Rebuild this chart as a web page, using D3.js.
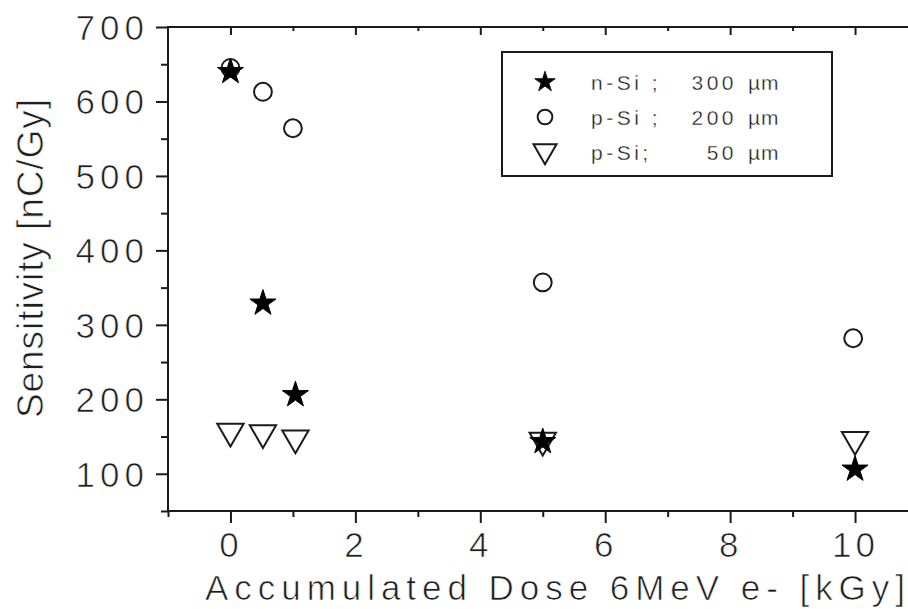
<!DOCTYPE html>
<html><head><meta charset="utf-8">
<script src="https://cdn.jsdelivr.net/npm/d3@7"></script>
<style>
html,body{margin:0;padding:0;background:#fff;}
svg{display:block;}
text{font-family:"Liberation Sans",Arial,sans-serif;fill:#1e1e1e;stroke:#fff;stroke-width:0.7px;}
</style></head>
<body>
<svg id="c" width="908" height="609"></svg>
<script>
// ---- data ----
const nSiX = [0, 0.52, 1.04, 5, 10];
const nSiY = [640, 329, 206, 143, 106];
const pSi200X = [0, 0.52, 1.0, 5, 9.97];
const pSi200Y = [645, 613, 564, 357, 282];
const pSi50X = [0, 0.52, 1.04, 5, 10];
const pSi50Y = [157, 155, 148, 145, 146];
const legendNames = ["n-Si ;", "p-Si ;", "p-Si;"];
const legendThick = ["300", "200", "50"];
const legendUnit = "µm";
const xTicks = [0, 2, 4, 6, 8, 10];
const xMinor = [-1, 1, 3, 5, 7, 9];
const yTicks = [100, 200, 300, 400, 500, 600, 700];
const yMinor = [50, 150, 250, 350, 450, 550, 650];
const xTitle = "Accumulated Dose 6MeV e- [kGy]";
const yTitle = "Sensitivity [nC/Gy]";

// ---- layout ----
const svg = d3.select("#c");
const L = 168, R = 917.5, T = 27, B = 511;
const x = d3.scaleLinear().domain([-1, 11]).range([L, R]);
const y = d3.scaleLinear().domain([50, 700]).range([B, T]);
const ink = "#1a1a1a";

// axes lines
const g = svg.append("g");
g.append("line").attr("x1", L).attr("x2", L).attr("y1", T - 1).attr("y2", B + 1).attr("stroke", ink).attr("stroke-width", 2);
g.append("line").attr("x1", L - 1).attr("x2", 908).attr("y1", B).attr("y2", B).attr("stroke", ink).attr("stroke-width", 2);
g.append("line").attr("x1", L - 1).attr("x2", 908).attr("y1", T).attr("y2", T).attr("stroke", ink).attr("stroke-width", 2);

// bottom axis (outward ticks)
const xAxis = d3.axisBottom(x).tickValues(xTicks).tickSize(12).tickFormat(d3.format("d"));
const gx = svg.append("g").attr("transform", `translate(0,${B})`).call(xAxis);
gx.select(".domain").remove();
gx.selectAll(".tick line").attr("stroke", ink).attr("stroke-width", 2);
gx.selectAll(".tick text").attr("font-size", 35).attr("letter-spacing", 4).attr("dy", null).attr("y", 46)
  .attr("fill", null).attr("font-family", null);
const gxm = svg.append("g").attr("transform", `translate(0,${B})`)
  .call(d3.axisBottom(x).tickValues(xMinor).tickSize(6).tickFormat(""));
gxm.select(".domain").remove();
gxm.selectAll(".tick line").attr("stroke", ink).attr("stroke-width", 2);

// top axis (inward ticks)
const gt = svg.append("g").attr("transform", `translate(0,${T})`)
  .call(d3.axisBottom(x).tickValues(xTicks).tickSize(8).tickFormat(""));
gt.select(".domain").remove();
gt.selectAll(".tick line").attr("stroke", ink).attr("stroke-width", 2);
const gtm = svg.append("g").attr("transform", `translate(0,${T})`)
  .call(d3.axisBottom(x).tickValues(xMinor.filter(d => d > -1)).tickSize(4).tickFormat(""));
gtm.select(".domain").remove();
gtm.selectAll(".tick line").attr("stroke", ink).attr("stroke-width", 2);

// left axis (outward ticks)
const gy = svg.append("g").attr("transform", `translate(${L},0)`)
  .call(d3.axisLeft(y).tickValues(yTicks).tickSize(12).tickFormat(d3.format("d")));
gy.select(".domain").remove();
gy.selectAll(".tick line").attr("stroke", ink).attr("stroke-width", 2);
gy.selectAll(".tick text").attr("font-size", 35).attr("letter-spacing", 5).attr("x", -19).attr("dy", "0.35em")
  .attr("fill", null).attr("font-family", null);
const gym = svg.append("g").attr("transform", `translate(${L},0)`)
  .call(d3.axisLeft(y).tickValues(yMinor).tickSize(7).tickFormat(""));
gym.select(".domain").remove();
gym.selectAll(".tick line").attr("stroke", ink).attr("stroke-width", 2);

// titles
svg.append("text").attr("x", 205).attr("y", 600).attr("font-size", 35)
  .attr("textLength", 700).attr("lengthAdjust", "spacing").text(xTitle);
svg.append("text").attr("transform", "translate(43,418) rotate(-90)").attr("font-size", 37)
  .attr("textLength", 319).attr("lengthAdjust", "spacing").text(yTitle);

// markers
const star = d3.symbol().type(d3.symbolStar);
const circ = d3.symbol().type(d3.symbolCircle);
const tri = d3.symbol().type(d3.symbolTriangle);

const gp = svg.append("g");
gp.selectAll(".tri").data(pSi50X.map((d, i) => [d, pSi50Y[i]])).join("path")
  .attr("d", tri.size(300)()).attr("transform", d => `translate(${x(d[0])},${y(d[1])}) rotate(180)`)
  .attr("fill", "#fff").attr("stroke", ink).attr("stroke-width", 2);
gp.selectAll(".circ").data(pSi200X.map((d, i) => [d, pSi200Y[i]])).join("path")
  .attr("d", circ.size(250)()).attr("transform", d => `translate(${x(d[0])},${y(d[1])})`)
  .attr("fill", "#fff").attr("stroke", ink).attr("stroke-width", 2);
gp.selectAll(".star").data(nSiX.map((d, i) => [d, nSiY[i]])).join("path")
  .attr("d", star.size(210)()).attr("transform", d => `translate(${x(d[0])},${y(d[1])})`)
  .attr("fill", "#000").attr("stroke", "#000").attr("stroke-width", 1);

// legend
const lg = svg.append("g");
lg.append("rect").attr("x", 502).attr("y", 52).attr("width", 330).attr("height", 124)
  .attr("fill", "#fff").attr("stroke", ink).attr("stroke-width", 2);
const rowsY = [82, 117, 152];
const legSyms = [
  { p: star.size(130)(), fill: "#000", rot: 0 },
  { p: circ.size(170)(), fill: "#fff", rot: 0 },
  { p: tri.size(230)(), fill: "#fff", rot: 180 }
];
legendNames.forEach((nm, i) => {
  const s = legSyms[i];
  lg.append("path").attr("d", s.p).attr("transform", `translate(545,${rowsY[i] - (i === 2 ? 1 : 0)}) rotate(${s.rot})`)
    .attr("fill", s.fill).attr("stroke", ink).attr("stroke-width", i === 0 ? 1 : 2);
  lg.append("text").attr("x", 591).attr("y", rowsY[i] + 7.5).attr("font-size", 21).attr("letter-spacing", 3.5).style("stroke-width", "0.3px").text(nm);
  lg.append("text").attr("x", 737).attr("y", rowsY[i] + 7.5).attr("font-size", 21).attr("letter-spacing", 3.5).style("stroke-width", "0.3px")
    .attr("text-anchor", "end").text(legendThick[i]);
  lg.append("text").attr("x", 748).attr("y", rowsY[i] + 7.5).attr("font-size", 21).attr("letter-spacing", 1).style("stroke-width", "0.3px").text(legendUnit);
});
</script>
</body></html>
